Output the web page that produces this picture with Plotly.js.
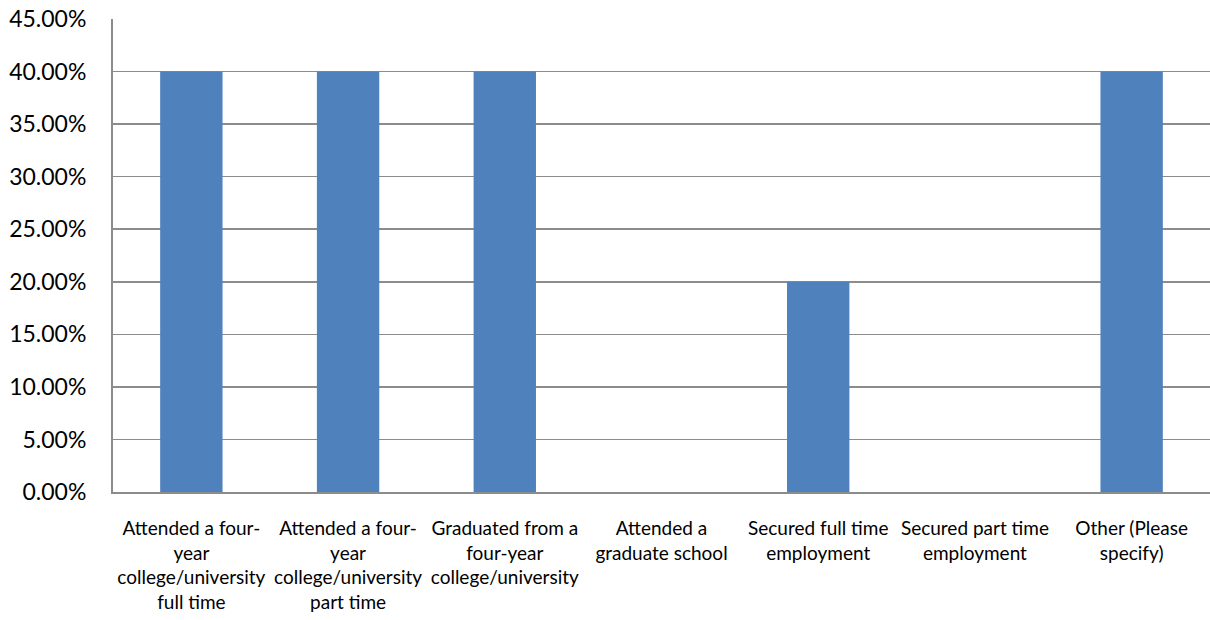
<!DOCTYPE html>
<html>
<head>
<meta charset="utf-8">
<script src="https://cdn.plot.ly/plotly-3.0.1.min.js"></script>
<style>html,body{margin:0;padding:0;background:#fff;}#chart{width:1210px;height:620px;}</style>
</head>
<body>
<div id="chart"></div>
<script>
const categories = [
  "Attended a four-<br>year<br>college/university<br>full time",
  "Attended a four-<br>year<br>college/university<br>part time",
  "Graduated from a<br>four-year<br>college/university",
  "Attended a<br>graduate school",
  "Secured full time<br>employment",
  "Secured part time<br>employment",
  "Other (Please<br>specify)"
];
const values = [0.40, 0.40, 0.40, 0, 0.20, 0, 0.40];
const yTicks = [0, 0.05, 0.10, 0.15, 0.20, 0.25, 0.30, 0.35, 0.40, 0.45];

const trace = {
  type: 'bar',
  x: categories,
  y: values,
  marker: {color: '#4F81BD'},
  hoverinfo: 'none'
};

const layout = {
  width: 1210,
  height: 620,
  margin: {l: 113, r: 0, t: 19, b: 128},
  paper_bgcolor: '#fff',
  plot_bgcolor: '#fff',
  bargap: 0.602,
  showlegend: false,
  font: {family: 'Lato, "Open Sans", sans-serif', color: '#000'},
  xaxis: {
    type: 'category',
    showline: true,
    linecolor: '#8c8c8c',
    linewidth: 2,
    showgrid: false,
    ticks: '',
    tickangle: 0,
    tickfont: {size: 19, color: '#000'},
    ticklabelstandoff: 18
  },
  yaxis: {
    range: [0, 0.45],
    tickvals: yTicks,
    tickformat: '.2%',
    showline: true,
    linecolor: '#8c8c8c',
    linewidth: 2,
    showgrid: true,
    gridcolor: '#8c8c8c',
    gridwidth: 1.5,
    zeroline: false,
    ticks: '',
    tickfont: {size: 23, color: '#000'},
    ticklabelstandoff: 20
  }
};

Plotly.newPlot('chart', [trace], layout, {staticPlot: true});
</script>
</body>
</html>
